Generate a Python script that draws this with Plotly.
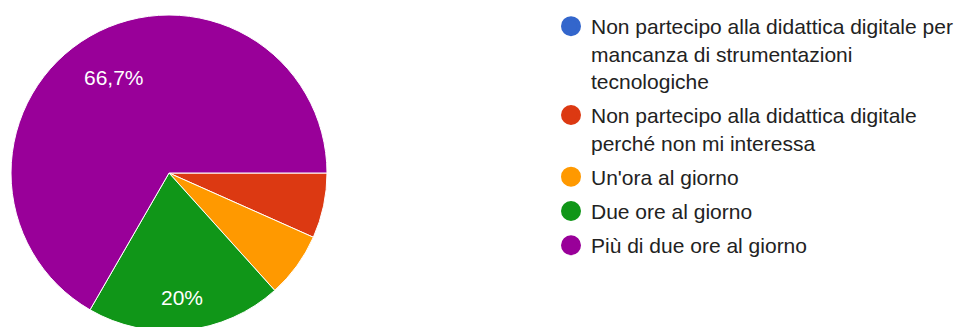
import math
import plotly.graph_objects as go

# Survey answers and response counts
labels = [
    "Non partecipo alla didattica digitale per<br>mancanza di strumentazioni<br>tecnologiche",
    "Non partecipo alla didattica digitale<br>perché non mi interessa",
    "Un'ora al giorno",
    "Due ore al giorno",
    "Più di due ore al giorno",
]
counts = [0, 1, 1, 3, 10]
colors = ["#3366cc", "#dc3912", "#ff9900", "#109618", "#990099"]

W, H = 958, 340
FONT = "Arial, 'Liberation Sans', sans-serif"
total = sum(counts)


def pct_label(v):
    # Italian formatting, small slices stay unlabelled
    p = 100 * v / total
    if p < 10:
        return ""
    s = f"{p:.1f}".replace(".", ",")
    if s.endswith(",0"):
        s = s[:-2]
    return s + "%"


# pie geometry in pixels (center and radius), start angle at 3 o'clock
cx, cy, r = 169, 173, 158
start_deg = 90
# radial placement of the percentage labels, as a fraction of the radius
label_radius = [0.7, 0.7, 0.7, 0.79, 0.7]

fig = go.Figure()
fig.add_trace(go.Pie(
    labels=labels,
    values=counts,
    textinfo="none",
    marker=dict(colors=colors, line=dict(color="white", width=1)),
    sort=False,
    direction="clockwise",
    rotation=start_deg,
    showlegend=False,
    hoverinfo="label+percent",
    domain=dict(x=[(cx - r) / W, (cx + r) / W], y=[(H - cy - r) / H, (H - cy + r) / H]),
))

# percentage labels at each slice's mid angle
acc = 0
for v, f in zip(counts, label_radius):
    mid = math.radians(start_deg + 360 * (acc + v / 2) / total)
    acc += v
    txt = pct_label(v)
    if not txt:
        continue
    px = cx + f * r * math.sin(mid)
    py = cy - f * r * math.cos(mid)
    fig.add_annotation(
        x=px / W, y=1 - py / H, xref="paper", yref="paper",
        xanchor="center", yanchor="middle",
        text=txt, showarrow=False,
        font=dict(family=FONT, size=21, color="white"),
    )

# legend entries with round markers
for i, (lab, col) in enumerate(zip(labels, colors)):
    fig.add_trace(go.Scatter(
        x=[None], y=[None], mode="markers", name=lab, legendgroup=f"g{i}",
        marker=dict(symbol="circle", size=16, color=col, line=dict(color=col, width=4)),
    ))

fig.update_layout(
    width=W, height=H,
    margin=dict(l=0, r=0, t=0, b=0),
    paper_bgcolor="white", plot_bgcolor="white",
    xaxis=dict(visible=False), yaxis=dict(visible=False),
    legend=dict(
        x=551 / W, y=1 - 6 / H, xanchor="left", yanchor="top",
        font=dict(family=FONT, size=21, color="#222222"),
        itemsizing="trace", tracegroupgap=4, valign="top",
    ),
)

fig.write_html(
    "out.html",
    post_script="document.documentElement.style.overflow='hidden';document.body.style.overflow='hidden';",
)
